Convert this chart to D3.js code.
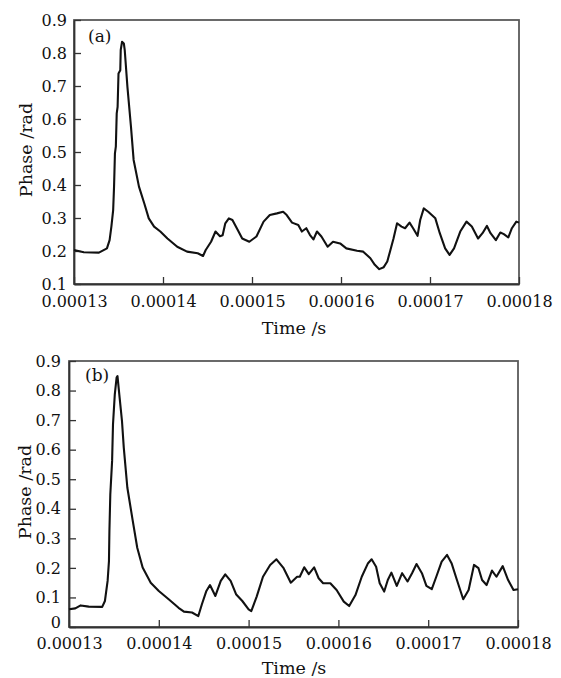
<!DOCTYPE html>
<html>
<head>
<meta charset="utf-8">
<script src="https://cdn.jsdelivr.net/npm/d3@7"></script>
<style>
  body { margin: 0; background: #fff; }
  svg text { font-family: "DejaVu Serif", serif; fill: #111; }
</style>
</head>
<body>
<script>
// time values are in microseconds here, converted to seconds when plotted
var timeA = [130.0, 131.1, 132.8, 133.7, 134.0, 134.2, 134.4, 134.5, 134.6, 134.7, 134.8, 134.9, 135.0, 135.2, 135.25, 135.4, 135.6, 135.7,
  136.0, 136.4, 136.7, 137.3, 137.9, 138.4, 139.0, 139.7, 140.5, 141.6, 142.7, 143.9, 144.5, 144.8, 145.4, 145.9, 146.4, 146.7,
  147.0, 147.4, 147.8, 148.4, 148.9, 149.7, 150.5, 151.3, 152.0, 152.8, 153.5, 153.9, 154.5, 155.2, 155.6, 156.1, 156.5, 156.9,
  157.3, 157.8, 158.5, 159.1, 159.9, 160.6, 161.8, 162.5, 163.3, 163.8, 164.3, 164.8, 165.2, 165.5, 165.9, 166.3, 166.8, 167.2,
  167.7, 168.1, 168.6, 168.9, 169.3, 169.8, 170.6, 171.1, 171.7, 172.2, 172.7, 173.4, 174.1, 174.7, 175.4, 175.9, 176.4, 176.8,
  177.4, 177.9, 178.3, 178.8, 179.2, 179.7, 180.0];
var phaseA = [0.203, 0.196, 0.195, 0.208, 0.233, 0.274, 0.324, 0.395, 0.496, 0.516, 0.617, 0.637, 0.738, 0.748, 0.809, 0.834, 0.829, 0.809,
  0.698, 0.577, 0.476, 0.395, 0.344, 0.299, 0.274, 0.259, 0.238, 0.213, 0.198, 0.193, 0.185, 0.203, 0.228, 0.259, 0.245, 0.248,
  0.284, 0.299, 0.294, 0.264, 0.238, 0.228, 0.244, 0.289, 0.309, 0.314, 0.319, 0.309, 0.286, 0.279, 0.259, 0.269, 0.249, 0.235,
  0.259, 0.244, 0.213, 0.228, 0.223, 0.208, 0.201, 0.198, 0.178, 0.158, 0.145, 0.151, 0.168, 0.198, 0.238, 0.284, 0.274, 0.269,
  0.286, 0.269, 0.246, 0.294, 0.329, 0.319, 0.299, 0.254, 0.208, 0.188, 0.208, 0.259, 0.289, 0.274, 0.238, 0.254, 0.276, 0.254,
  0.233, 0.256, 0.251, 0.241, 0.269, 0.289, 0.286];

var timeB = [130.0, 130.7, 131.3, 132.2, 133.7, 134.0, 134.3, 134.45, 134.5, 134.6, 134.8, 134.9, 135.1, 135.3, 135.4, 135.6, 135.9,
  136.1, 136.5, 137.1, 137.6, 138.2, 139.1, 140.0, 141.1, 142.2, 142.8, 143.7, 144.4, 144.8, 145.3, 145.7, 146.3, 146.9, 147.4,
  148.0, 148.6, 149.3, 150.0, 150.3, 150.9, 151.6, 152.4, 153.1, 153.9, 154.7, 155.4, 155.7, 156.2, 156.7, 157.3, 157.8, 158.3,
  159.1, 159.8, 160.6, 161.2, 161.9, 162.6, 163.3, 163.7, 164.2, 164.6, 165.1, 165.5, 165.9, 166.5, 167.1, 167.7, 168.2, 168.7,
  169.3, 169.8, 170.4, 170.9, 171.5, 172.1, 172.6, 173.2, 173.9, 174.5, 175.1, 175.6, 176.0, 176.5, 177.1, 177.6, 178.3, 178.9,
  179.5, 180.0];
var phaseB = [0.060, 0.063, 0.073, 0.069, 0.068, 0.088, 0.156, 0.223, 0.325, 0.449, 0.562, 0.686, 0.787, 0.844, 0.849, 0.787, 0.697,
  0.607, 0.471, 0.359, 0.268, 0.201, 0.150, 0.122, 0.094, 0.065, 0.052, 0.049, 0.037, 0.077, 0.122, 0.142, 0.105, 0.156, 0.178,
  0.156, 0.111, 0.088, 0.060, 0.054, 0.103, 0.170, 0.210, 0.229, 0.199, 0.150, 0.170, 0.170, 0.202, 0.179, 0.202, 0.165, 0.148,
  0.148, 0.125, 0.086, 0.071, 0.108, 0.170, 0.216, 0.229, 0.204, 0.148, 0.120, 0.159, 0.184, 0.139, 0.182, 0.154, 0.182, 0.213,
  0.182, 0.139, 0.128, 0.170, 0.221, 0.244, 0.216, 0.159, 0.094, 0.125, 0.210, 0.199, 0.159, 0.142, 0.191, 0.170, 0.206, 0.159,
  0.125, 0.128];

var xTicks = [0.00013, 0.00014, 0.00015, 0.00016, 0.00017, 0.00018];
var yTicksA = [0.1, 0.2, 0.3, 0.4, 0.5, 0.6, 0.7, 0.8, 0.9];
var yTicksB = [0, 0.1, 0.2, 0.3, 0.4, 0.5, 0.6, 0.7, 0.8, 0.9];

var svg = d3.select("body").append("svg")
    .attr("width", 561)
    .attr("height", 678);

function drawPanel(p) {
    var x = d3.scaleLinear().domain([0.00013, 0.00018]).range([p.left, p.right]);
    var y = d3.scaleLinear().domain(p.yDomain).range([p.bottom, p.top]);
    var g = svg.append("g");

    // frame
    g.append("rect")
        .attr("x", p.left).attr("y", p.top)
        .attr("width", p.right - p.left).attr("height", p.bottom - p.top)
        .attr("fill", "none").attr("stroke", "#5a5a5a").attr("stroke-width", 1.8);

    var xAxis = g.append("g")
        .attr("transform", "translate(0," + p.bottom + ")")
        .call(d3.axisBottom(x).tickValues(xTicks).tickFormat(d3.format(".5f"))
            .tickSizeInner(-7).tickSizeOuter(0).tickPadding(p.xPad));
    var yAxis = g.append("g")
        .attr("transform", "translate(" + p.left + ",0)")
        .call(d3.axisLeft(y).tickValues(p.yTicks).tickFormat(function(d) { return d === 0 ? "0" : d3.format(".1f")(d); })
            .tickSizeInner(-7).tickSizeOuter(0).tickPadding(p.yPad));
    [xAxis, yAxis].forEach(function(a) {
        a.select(".domain").attr("stroke", "#333").attr("stroke-width", 1.8);
        a.selectAll(".tick line").attr("stroke", "#333").attr("stroke-width", 1.3);
        a.selectAll(".tick text").style("font-size", "16px").attr("fill", "#111");
    });
    // the zero label sits a little above its tick, clear of the time labels
    yAxis.selectAll(".tick text").filter(function(d) { return d === 0; }).attr("y", -5);

    var line = d3.line()
        .x(function(d) { return x(d[0] * 1e-6); })
        .y(function(d) { return y(d[1]); });
    g.append("path")
        .datum(d3.zip(p.time, p.phase))
        .attr("d", line)
        .attr("fill", "none")
        .attr("stroke", "#111")
        .attr("stroke-width", 2.1)
        .attr("stroke-linejoin", "round");

    g.append("text")
        .attr("x", p.labelX).attr("y", p.labelY)
        .style("font-size", "17px")
        .text(p.label);

    g.append("text")
        .attr("x", 294).attr("y", p.xTitleY)
        .attr("text-anchor", "middle")
        .style("font-size", "17.5px")
        .text("Time /s");

    g.append("text")
        .attr("transform", "translate(" + p.yTitleX + "," + p.yTitleY + ") rotate(-90)")
        .attr("text-anchor", "middle")
        .style("font-size", "17.5px")
        .text("Phase /rad");
}

drawPanel({
    left: 74, right: 519, top: 20, bottom: 284,
    yDomain: [0.1, 0.9], yTicks: yTicksA, time: timeA, phase: phaseA,
    xPad: 12, yPad: 7, label: "(a)", labelX: 88, labelY: 42,
    xTitleY: 334, yTitleX: 32, yTitleY: 150
});

drawPanel({
    left: 69, right: 518, top: 361, bottom: 627,
    yDomain: [0, 0.9], yTicks: yTicksB, time: timeB, phase: phaseB,
    xPad: 11, yPad: 8, label: "(b)", labelX: 85, labelY: 381,
    xTitleY: 674, yTitleX: 31, yTitleY: 492
});
</script>
</body>
</html>
